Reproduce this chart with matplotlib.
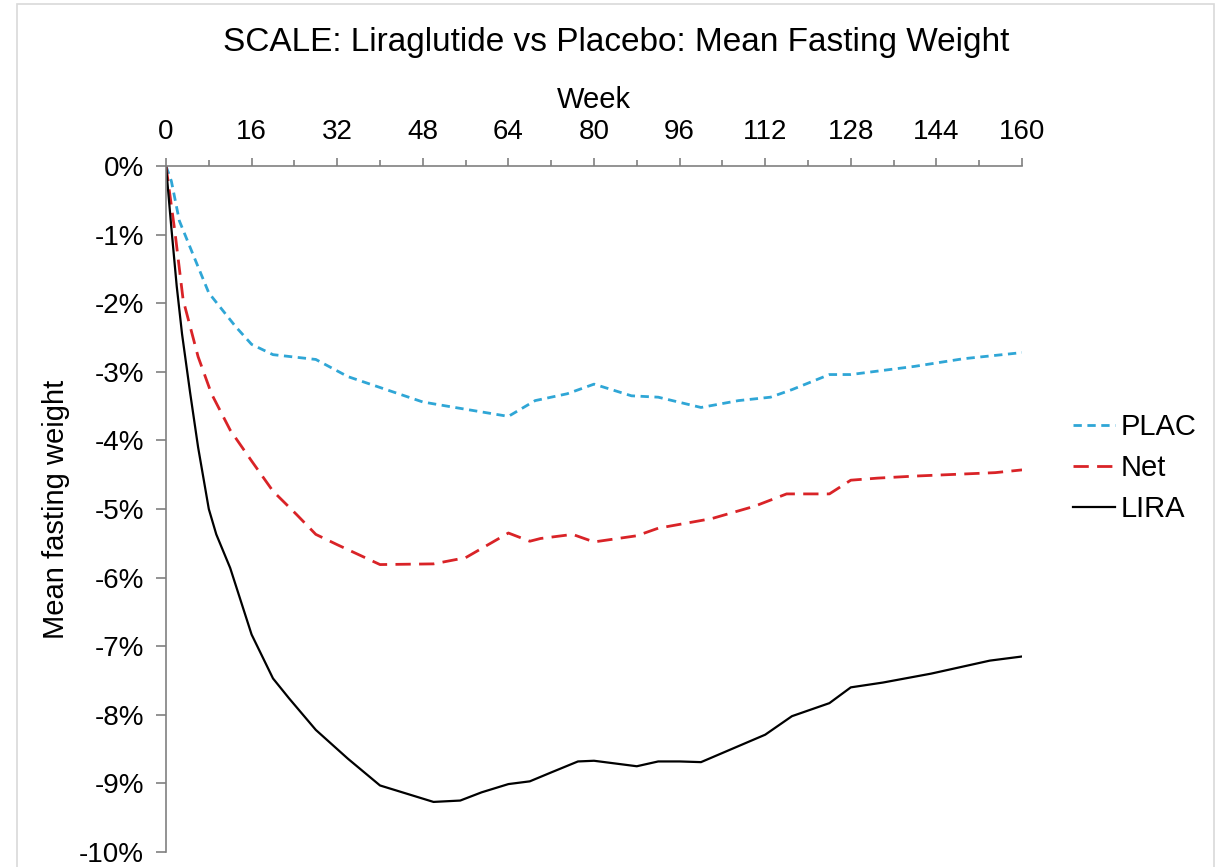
import matplotlib
matplotlib.use("Agg")
import matplotlib.pyplot as plt
from matplotlib.ticker import MultipleLocator, FuncFormatter
from matplotlib.patches import Rectangle

plt.rcParams['font.family'] = ['Liberation Sans', 'DejaVu Sans']

# values (week, % change in fasting weight)
plac_weeks = [0, 1, 2.5, 5, 8, 13, 16, 20, 28, 34, 48, 54, 64, 69, 75, 80,
              87, 92, 100, 107, 113, 117, 124, 128, 140, 149, 160]
plac_vals = [0, -0.22, -0.8, -1.28, -1.85, -2.34, -2.6, -2.75, -2.82, -3.07, -3.44, -3.52, -3.65, -3.42, -3.32, -3.18,
             -3.35, -3.37, -3.52, -3.42, -3.37, -3.26, -3.04, -3.04, -2.92, -2.81, -2.72]

net_weeks = [0, 1.7, 3.2, 6, 8.5, 12, 16, 20, 24.4, 28, 32, 40, 50, 56, 64, 68, 70, 76, 80,
             88, 92, 102, 106, 110, 116, 124, 128, 133, 140, 155, 160]
net_vals = [0, -0.98, -1.95, -2.78, -3.32, -3.85, -4.3, -4.74, -5.08, -5.37, -5.52, -5.81, -5.80, -5.71, -5.35, -5.47, -5.43, -5.37, -5.48,
            -5.39, -5.28, -5.14, -5.05, -4.96, -4.78, -4.78, -4.58, -4.55, -4.52, -4.47, -4.43]

lira_weeks = [0, 1, 2, 3, 4.5, 6, 8, 9.4, 12, 16, 20, 23, 28, 34, 40, 45, 50, 55, 59, 64, 68, 72, 77, 80,
              85, 88, 92, 96, 100, 106, 112, 117, 124, 128, 134, 143, 154, 160]
lira_vals = [0, -0.9, -1.75, -2.45, -3.3, -4.1, -5.0, -5.37, -5.86, -6.83, -7.47, -7.76, -8.22, -8.64, -9.03, -9.15, -9.27, -9.25, -9.13, -9.01, -8.97, -8.84, -8.68, -8.67,
             -8.72, -8.75, -8.68, -8.68, -8.69, -8.49, -8.29, -8.02, -7.83, -7.60, -7.53, -7.40, -7.21, -7.15]

fig = plt.figure(figsize=(12.2, 8.67), dpi=100)
ax = fig.add_axes([166 / 1220, 1 - 852 / 867, (1022 - 166) / 1220, (852 - 166) / 867])

ax.plot(plac_weeks, plac_vals, color='#2fa6d6', lw=2, linestyle=(0, (3, 2)), label='PLAC')
ax.plot(net_weeks, net_vals, color='#d92327', lw=2, linestyle=(0, (5.5, 3)), label='Net')
ax.plot(lira_weeks, lira_vals, color='black', lw=1.6, label='LIRA')

ax.set_xlim(0, 160)
ax.set_ylim(-10, 0)

# x axis sits on top, like the Excel original
ax.xaxis.set_ticks_position('top')
ax.xaxis.set_label_position('top')
ax.xaxis.set_major_locator(MultipleLocator(16))
ax.xaxis.set_minor_locator(MultipleLocator(8))
ax.yaxis.set_major_locator(MultipleLocator(1))
ax.yaxis.set_major_formatter(FuncFormatter(lambda v, p: f"{int(round(v))}%"))

for s in ['bottom', 'right']:
    ax.spines[s].set_visible(False)
for s in ['top', 'left']:
    ax.spines[s].set_color('#808080')
    ax.spines[s].set_linewidth(1.2)

ax.tick_params(axis='x', which='major', length=6, width=1.2, color='#808080', pad=9, labelsize=20)
ax.tick_params(axis='x', which='minor', length=4, width=1.2, color='#808080')
ax.tick_params(axis='y', which='major', length=7, width=1.2, color='#808080', pad=9, labelsize=20)

ax.set_xlabel('Week', fontsize=21, labelpad=8)
ax.set_ylabel('Mean fasting weight', fontsize=21, labelpad=6)

fig.text(0.505, 1 - 42 / 867, 'SCALE: Liraglutide vs Placebo: Mean Fasting Weight',
         ha='center', va='center', fontsize=24)

fig.legend(loc='center left', bbox_to_anchor=(1058 / 1220, 1 - 468 / 867), frameon=False,
           fontsize=21, handlelength=1.45, handletextpad=0.2, labelspacing=0.45, borderpad=0)

# light grey border round the chart area
fig.patches.append(Rectangle((17 / 1220, -0.1), (1214 - 17) / 1220, 1.1 - 4 / 867,
                             transform=fig.transFigure, fill=False, edgecolor='#d9d9d9', lw=1.2))

fig.savefig('out.png', dpi=100)
